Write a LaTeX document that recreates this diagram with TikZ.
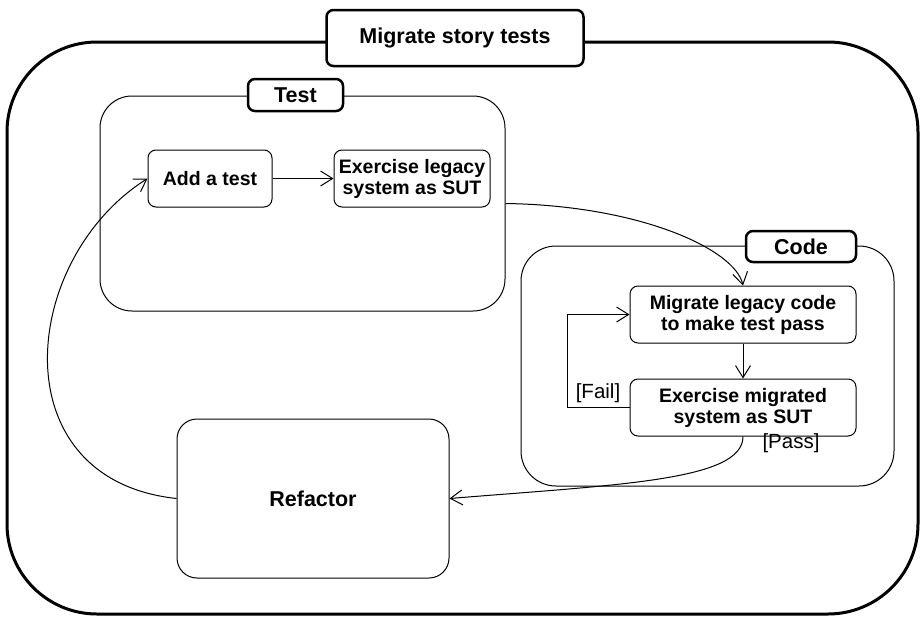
\documentclass[tikz,border=0pt]{standalone}
\usepackage{fontspec}
\setmainfont{Liberation Sans}
\usepackage{tikz}
\usetikzlibrary{arrows.meta, positioning, calc}
\usepackage{xcolor}
\definecolor{trait}{RGB}{0,0,0}

\begin{document}
\begin{tikzpicture}[x=1pt, y=-1pt,
    zone/.style={draw=trait, line width=1pt, inner sep=0pt},
    etiquette/.style={draw=trait, fill=white, line width=2.5pt, rounded corners=7pt,
      inner sep=0pt, font=\fontsize{21.5}{24}\selectfont\bfseries},
    etat/.style={draw=trait, fill=white, line width=1pt, rounded corners=8pt,
      inner sep=0pt, align=center, font=\fontsize{19.5}{21}\selectfont\bfseries},
    garde/.style={inner sep=0pt, font=\fontsize{20.5}{23}\selectfont},
    fleche/.style={-{Straight Barb[length=12pt, width=15pt]}, line width=1pt, trait}]

    \useasboundingbox (0,0) rectangle (924,619);

    % Cadre principal
    \node[zone, line width=3pt, rounded corners=90pt,
          minimum width=911pt, minimum height=572pt] (cadre) at (462.5,328) {};
    \node[etiquette, minimum width=257pt, minimum height=56pt] (titre) at (455,38)
      {Migrate story tests};

    % Zone Test
    \node[zone, rounded corners=32pt,
          minimum width=405pt, minimum height=215pt] (test) at (302.5,203.5) {};
    \node[etiquette, minimum width=95pt, minimum height=32pt] (testlab) at (295.5,95)
      {Test};
    \node[etat, minimum width=124pt, minimum height=57pt] (ajout) at (210,178.5)
      {Add a test};
    \node[etat, minimum width=156pt, minimum height=57pt] (ancien) at (412,178.5)
      {Exercise legacy\\system as SUT};

    % Zone Code
    \node[zone, rounded corners=35pt,
          minimum width=373pt, minimum height=240pt] (code) at (707.5,366) {};
    \node[etiquette, minimum width=110pt, minimum height=31pt] (codelab) at (801,246.5)
      {Code};
    \node[etat, minimum width=226pt, minimum height=57pt] (migre) at (743,314.5)
      {Migrate legacy code\\to make test pass};
    \node[etat, minimum width=226pt, minimum height=57pt] (essai) at (743,407.5)
      {Exercise migrated\\system as SUT};
    \node[garde] (echec) at (598,393) {[Fail]};
    \node[garde] (succes) at (791,443) {[Pass]};

    % Refactor
    \node[etat, rounded corners=20pt, font=\fontsize{21.5}{24}\selectfont\bfseries,
          minimum width=272pt, minimum height=159pt] (refacto) at (313,498.5)
      {Refactor};

    % Transitions
    \draw[fleche] (ajout) -- (ancien);
    \draw[fleche] ([yshift=-25pt]ancien.east -| test.east)
      .. controls +(135,2) and +(-8,-36) .. (migre.north);
    \draw[fleche] (migre) -- (essai);
    \draw[fleche] (essai.west) -- ++(-62,0) |- (migre.west);
    \draw[fleche] (essai.south)
      .. controls +(0,44) and +(171,-14) .. (refacto.east);
    \draw[fleche] (refacto.west)
      .. controls +(-177,-19) and +(-128,81) .. (ajout.west);

\end{tikzpicture}
\end{document}
